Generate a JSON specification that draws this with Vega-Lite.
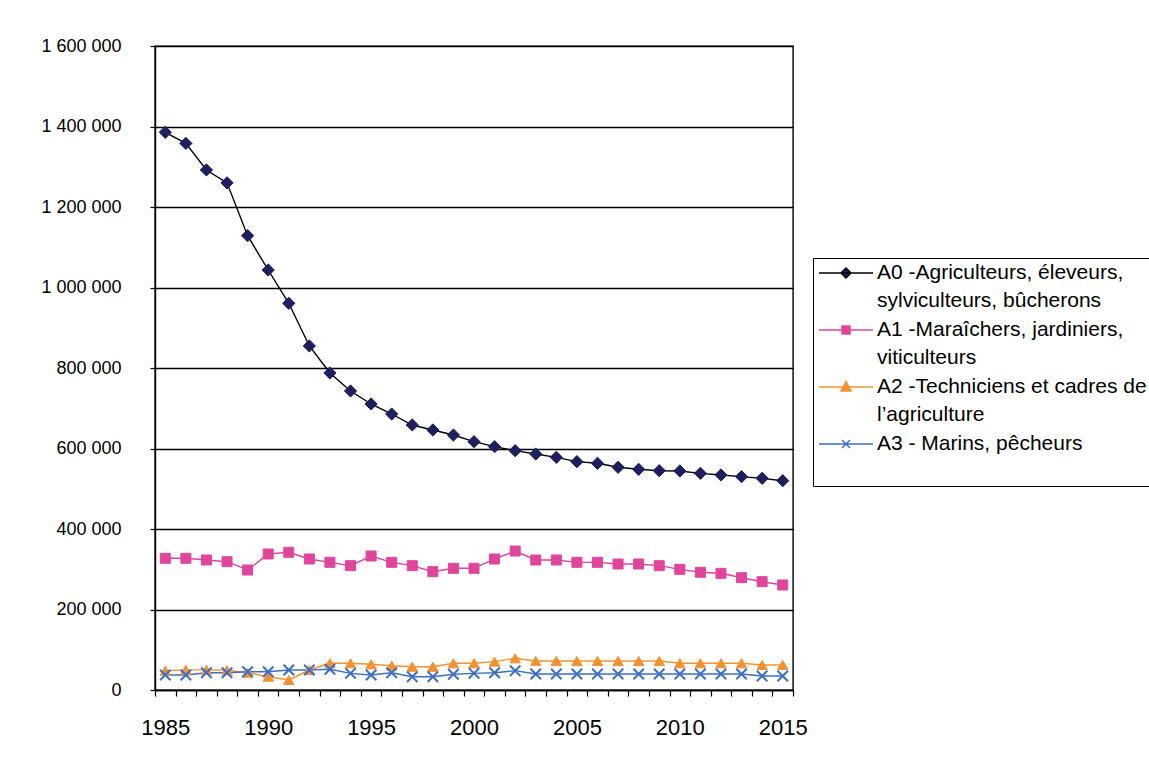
{
  "$schema": "https://vega.github.io/schema/vega-lite/v6.json",
  "width": 638,
  "height": 644,
  "autosize": "none",
  "padding": {"left": 155, "top": 46, "right": 356, "bottom": 73},
  "background": "white",
  "config": {
    "font": "Liberation Sans",
    "view": {"stroke": "black", "strokeWidth": 1.4},
    "axis": {"labelColor": "black", "labelFont": "Liberation Sans", "domainColor": "black", "domainWidth": 1.4, "tickColor": "black", "tickWidth": 1.2, "gridColor": "black", "gridOpacity": 1, "title": null}
  },
  "data": {"values": [
    {"annee":1985,"serie":"A0","valeur":1385600},{"annee":1986,"serie":"A0","valeur":1358000},{"annee":1987,"serie":"A0","valeur":1292000},{"annee":1988,"serie":"A0","valeur":1260000},{"annee":1989,"serie":"A0","valeur":1128700},{"annee":1990,"serie":"A0","valeur":1043500},{"annee":1991,"serie":"A0","valeur":960700},{"annee":1992,"serie":"A0","valeur":854700},{"annee":1993,"serie":"A0","valeur":787600},{"annee":1994,"serie":"A0","valeur":742900},{"annee":1995,"serie":"A0","valeur":710600},{"annee":1996,"serie":"A0","valeur":685700},{"annee":1997,"serie":"A0","valeur":658400},{"annee":1998,"serie":"A0","valeur":646000},{"annee":1999,"serie":"A0","valeur":633500},{"annee":2000,"serie":"A0","valeur":617000},{"annee":2001,"serie":"A0","valeur":604500},{"annee":2002,"serie":"A0","valeur":594600},{"annee":2003,"serie":"A0","valeur":586300},{"annee":2004,"serie":"A0","valeur":578000},{"annee":2005,"serie":"A0","valeur":567300},{"annee":2006,"serie":"A0","valeur":563200},{"annee":2007,"serie":"A0","valeur":553300},{"annee":2008,"serie":"A0","valeur":548300},{"annee":2009,"serie":"A0","valeur":544900},{"annee":2010,"serie":"A0","valeur":544100},{"annee":2011,"serie":"A0","valeur":538300},{"annee":2012,"serie":"A0","valeur":534200},{"annee":2013,"serie":"A0","valeur":530000},{"annee":2014,"serie":"A0","valeur":525900},{"annee":2015,"serie":"A0","valeur":520000},
    {"annee":1985,"serie":"A1","valeur":327200},{"annee":1986,"serie":"A1","valeur":327200},{"annee":1987,"serie":"A1","valeur":323000},{"annee":1988,"serie":"A1","valeur":318800},{"annee":1989,"serie":"A1","valeur":298100},{"annee":1990,"serie":"A1","valeur":337900},{"annee":1991,"serie":"A1","valeur":342100},{"annee":1992,"serie":"A1","valeur":325500},{"annee":1993,"serie":"A1","valeur":317200},{"annee":1994,"serie":"A1","valeur":308900},{"annee":1995,"serie":"A1","valeur":332900},{"annee":1996,"serie":"A1","valeur":317200},{"annee":1997,"serie":"A1","valeur":308900},{"annee":1998,"serie":"A1","valeur":294000},{"annee":1999,"serie":"A1","valeur":302300},{"annee":2000,"serie":"A1","valeur":302300},{"annee":2001,"serie":"A1","valeur":325500},{"annee":2002,"serie":"A1","valeur":345300},{"annee":2003,"serie":"A1","valeur":323000},{"annee":2004,"serie":"A1","valeur":323000},{"annee":2005,"serie":"A1","valeur":317200},{"annee":2006,"serie":"A1","valeur":317200},{"annee":2007,"serie":"A1","valeur":313000},{"annee":2008,"serie":"A1","valeur":313000},{"annee":2009,"serie":"A1","valeur":308900},{"annee":2010,"serie":"A1","valeur":299800},{"annee":2011,"serie":"A1","valeur":292400},{"annee":2012,"serie":"A1","valeur":289900},{"annee":2013,"serie":"A1","valeur":279000},{"annee":2014,"serie":"A1","valeur":269100},{"annee":2015,"serie":"A1","valeur":260900},
    {"annee":1985,"serie":"A2","valeur":48000},{"annee":1986,"serie":"A2","valeur":50000},{"annee":1987,"serie":"A2","valeur":50000},{"annee":1988,"serie":"A2","valeur":49000},{"annee":1989,"serie":"A2","valeur":43000},{"annee":1990,"serie":"A2","valeur":33000},{"annee":1991,"serie":"A2","valeur":25000},{"annee":1992,"serie":"A2","valeur":49700},{"annee":1993,"serie":"A2","valeur":66300},{"annee":1994,"serie":"A2","valeur":66300},{"annee":1995,"serie":"A2","valeur":63800},{"annee":1996,"serie":"A2","valeur":60400},{"annee":1997,"serie":"A2","valeur":57900},{"annee":1998,"serie":"A2","valeur":57900},{"annee":1999,"serie":"A2","valeur":66300},{"annee":2000,"serie":"A2","valeur":66300},{"annee":2001,"serie":"A2","valeur":70400},{"annee":2002,"serie":"A2","valeur":78700},{"annee":2003,"serie":"A2","valeur":72000},{"annee":2004,"serie":"A2","valeur":72000},{"annee":2005,"serie":"A2","valeur":72000},{"annee":2006,"serie":"A2","valeur":72000},{"annee":2007,"serie":"A2","valeur":72000},{"annee":2008,"serie":"A2","valeur":72000},{"annee":2009,"serie":"A2","valeur":72000},{"annee":2010,"serie":"A2","valeur":66300},{"annee":2011,"serie":"A2","valeur":66300},{"annee":2012,"serie":"A2","valeur":66300},{"annee":2013,"serie":"A2","valeur":66300},{"annee":2014,"serie":"A2","valeur":62100},{"annee":2015,"serie":"A2","valeur":62100},
    {"annee":1985,"serie":"A3","valeur":37300},{"annee":1986,"serie":"A3","valeur":37300},{"annee":1987,"serie":"A3","valeur":43000},{"annee":1988,"serie":"A3","valeur":43000},{"annee":1989,"serie":"A3","valeur":45500},{"annee":1990,"serie":"A3","valeur":45500},{"annee":1991,"serie":"A3","valeur":49700},{"annee":1992,"serie":"A3","valeur":49700},{"annee":1993,"serie":"A3","valeur":51400},{"annee":1994,"serie":"A3","valeur":41400},{"annee":1995,"serie":"A3","valeur":37300},{"annee":1996,"serie":"A3","valeur":43000},{"annee":1997,"serie":"A3","valeur":33000},{"annee":1998,"serie":"A3","valeur":33000},{"annee":1999,"serie":"A3","valeur":39000},{"annee":2000,"serie":"A3","valeur":41400},{"annee":2001,"serie":"A3","valeur":43000},{"annee":2002,"serie":"A3","valeur":48000},{"annee":2003,"serie":"A3","valeur":39800},{"annee":2004,"serie":"A3","valeur":39800},{"annee":2005,"serie":"A3","valeur":39800},{"annee":2006,"serie":"A3","valeur":39800},{"annee":2007,"serie":"A3","valeur":39800},{"annee":2008,"serie":"A3","valeur":39800},{"annee":2009,"serie":"A3","valeur":39800},{"annee":2010,"serie":"A3","valeur":39800},{"annee":2011,"serie":"A3","valeur":39800},{"annee":2012,"serie":"A3","valeur":39800},{"annee":2013,"serie":"A3","valeur":39800},{"annee":2014,"serie":"A3","valeur":34800},{"annee":2015,"serie":"A3","valeur":34800}
  ]},
  "encoding": {
    "x": {
      "field": "annee", "type": "quantitative",
      "scale": {"domain": [1984.5, 2015.5], "nice": false, "zero": false},
      "axis": {
        "values": [1984.5,1985.5,1986.5,1987.5,1988.5,1989.5,1990.5,1991.5,1992.5,1993.5,1994.5,1995.5,1996.5,1997.5,1998.5,1999.5,2000.5,2001.5,2002.5,2003.5,2004.5,2005.5,2006.5,2007.5,2008.5,2009.5,2010.5,2011.5,2012.5,2013.5,2014.5,2015.5],
        "labelExpr": "(datum.value + 0.5) % 5 == 0 ? '' + (datum.value + 0.5) : ''",
        "labelOffset": 10.3,
        "grid": false, "labelFontSize": 22, "labelPadding": 21, "tickSize": 6, "labelFlush": false, "labelOverlap": false
      }
    },
    "y": {
      "field": "valeur", "type": "quantitative",
      "scale": {"domain": [0, 1600000], "nice": false},
      "axis": {
        "values": [0,200000,400000,600000,800000,1000000,1200000,1400000,1600000],
        "labelExpr": "replace(format(datum.value, ','), regexp(',', 'g'), ' ')",
        "labelFontSize": 18, "labelPadding": 29, "tickSize": 5, "gridWidth": 1.4
      }
    }
  },
  "layer": [
    {
      "mark": {"type": "line", "strokeWidth": 1.4},
      "encoding": {
        "strokeWidth": {"condition": {"test": "datum.serie == 'A0'", "value": 1.8}, "value": 1.3},
        "color": {
          "field": "serie", "type": "nominal",
          "scale": {"domain": ["A0","A1","A2","A3"], "range": ["#000000","#e0459c","#f39232","#3d6fc6"]},
          "legend": {
            "orient": "none", "legendX": 658, "legendY": 212,
            "title": null,
            "strokeColor": "black", "padding": 4,
            "labelFontSize": 21, "labelColor": "black", "labelLimit": 400,
            "symbolSize": 400, "symbolStrokeWidth": 1.5, "symbolOffset": 18,
            "rowPadding": 8, "labelOffset": 20,
            "labelExpr": "datum.value == 'A0' ? ['A0 -Agriculteurs, éleveurs,', 'sylviculteurs, bûcherons'] : datum.value == 'A1' ? ['A1 -Maraîchers, jardiniers,', 'viticulteurs'] : datum.value == 'A2' ? ['A2 -Techniciens et cadres de', 'l\u2019agriculture'] : ['A3 - Marins, pêcheurs', ' ']",
            "encode": {
              "labels": {"update": {"lineHeight": {"value": 28}}},
              "symbols": {"update": {
                "shape": {"signal": "datum.value == 'A0' ? 'M-2.7,0H2.7M0,-0.5L0.5,0L0,0.5L-0.5,0Z' : datum.value == 'A1' ? 'M-2.7,0H2.7M-0.4,-0.4H0.4V0.4H-0.4Z' : datum.value == 'A2' ? 'M-2.7,0H2.7M0,-0.55L0.5,0.4H-0.5Z' : 'M-2.7,0H2.7M-0.4,-0.4L0.4,0.4M-0.4,0.4L0.4,-0.4'"},
                "fill": {"signal": "datum.value == 'A0' ? '#1e1f5e' : datum.value == 'A1' ? '#e0459c' : datum.value == 'A2' ? '#f39232' : 'transparent'"},
                "stroke": {"signal": "datum.value == 'A0' ? '#000000' : datum.value == 'A1' ? '#e0459c' : datum.value == 'A2' ? '#f39232' : '#3d6fc6'"}
              }}
            }
          }
        }
      }
    },
    {
      "mark": {"type": "point", "filled": false, "opacity": 1, "strokeWidth": 1.4},
      "encoding": {
        "shape": {"condition": [{"test": "datum.serie == 'A0'", "value": "diamond"}, {"test": "datum.serie == 'A1'", "value": "square"}, {"test": "datum.serie == 'A2'", "value": "triangle-up"}], "value": "M-1,-1L1,1M-1,1L1,-1"},
        "size": {"condition": [{"test": "datum.serie == 'A0'", "value": 150}, {"test": "datum.serie == 'A1'", "value": 100}, {"test": "datum.serie == 'A2'", "value": 110}], "value": 110},
        "fill": {"condition": [{"test": "datum.serie == 'A0'", "value": "#1e1f5e"}, {"test": "datum.serie == 'A1'", "value": "#e0459c"}, {"test": "datum.serie == 'A2'", "value": "#f39232"}], "value": "transparent"},
        "stroke": {"condition": [{"test": "datum.serie == 'A0'", "value": "#1e1f5e"}, {"test": "datum.serie == 'A1'", "value": "#e0459c"}, {"test": "datum.serie == 'A2'", "value": "#f39232"}], "value": "#3d6fc6"},
        "strokeWidth": {"condition": {"test": "datum.serie == 'A3'", "value": 2}, "value": 1}
      }
    }
  ]
}
